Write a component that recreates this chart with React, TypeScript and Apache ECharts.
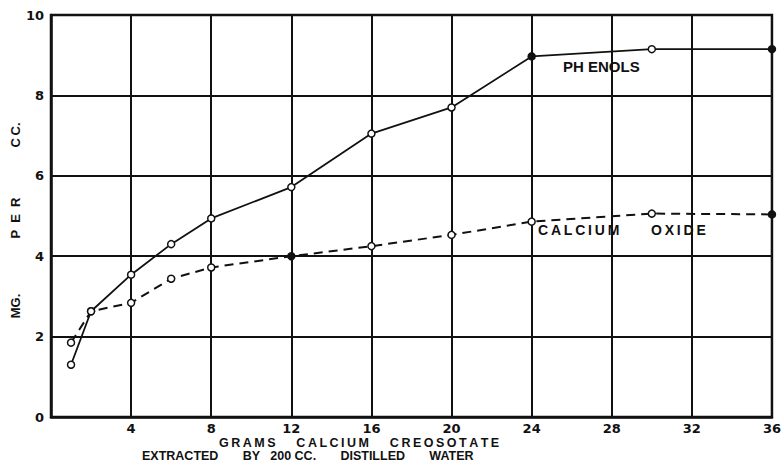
import React, { useEffect, useRef } from "react";
import * as echarts from "echarts";

const phenolsX = [1, 2, 4, 6, 8, 12, 16, 20, 24, 30, 36];
const phenolsY = [1.3, 2.63, 3.54, 4.3, 4.94, 5.72, 7.05, 7.7, 8.97, 9.15, 9.15];
const phenolsFilled = [24, 36];

const calciumX = [1, 2, 4, 6, 8, 12, 16, 20, 24, 30, 36];
const calciumY = [1.85, 2.63, 2.84, 3.44, 3.72, 4.0, 4.25, 4.53, 4.86, 5.06, 5.04];
const calciumFilled = [12, 36];

const xTicks = [4, 8, 12, 16, 20, 24, 28, 32, 36];
const yTicks = [0, 2, 4, 6, 8, 10];

const TICKFONT = "'DejaVu Sans', 'Liberation Sans', sans-serif";
const FONT = "'Liberation Sans', 'DejaVu Sans', sans-serif";
const T = "\u2009";
const spaced = (s: string) => s.split("").join(T);

function buildData(xs: number[], ys: number[], filled: number[]) {
  return xs.map((x, i) => ({
    value: [x, ys[i]],
    itemStyle: filled.includes(x)
      ? { color: "#111", borderColor: "#111", borderWidth: 1.5 }
      : { color: "#fff", borderColor: "#111", borderWidth: 1.5 },
  }));
}

export default function App() {
  const ref = useRef<HTMLDivElement>(null);
  useEffect(() => {
    if (!ref.current) return;
    const chart = echarts.init(ref.current, null, { renderer: "svg" });
    const txt = (extra: any) => ({ type: "text", silent: true, ...extra });
    chart.setOption({
      animation: false,
      backgroundColor: "#fff",
      grid: { left: 51, right: 10, top: 15, bottom: 52, show: true, borderColor: "#111", borderWidth: 2.5 },
      xAxis: {
        type: "value",
        min: 0,
        max: 36,
        interval: 4,
        axisLine: { show: true, lineStyle: { color: "#111", width: 2.5 } },
        axisTick: { show: false },
        splitLine: { show: true, lineStyle: { color: "#111", width: 2 } },
        axisLabel: {
          margin: 5,
          color: "#111",
          fontFamily: TICKFONT,
          fontWeight: "bold",
          fontSize: 13,
          lineHeight: 13,
          formatter: (v: number) => (xTicks.includes(v) ? String(v) : ""),
        },
      },
      yAxis: {
        type: "value",
        min: 0,
        max: 10,
        interval: 2,
        axisLine: { show: true, lineStyle: { color: "#111", width: 2.5 } },
        axisTick: { show: false },
        splitLine: { show: true, lineStyle: { color: "#111", width: 2 } },
        axisLabel: {
          margin: 7,
          color: "#111",
          fontFamily: TICKFONT,
          fontWeight: "bold",
          fontSize: 13,
          formatter: (v: number) => (yTicks.includes(v) ? String(v) : ""),
        },
      },
      series: [
        {
          name: "PHENOLS",
          type: "line",
          data: buildData(phenolsX, phenolsY, phenolsFilled),
          symbol: "circle",
          symbolSize: 7,
          lineStyle: { color: "#111", width: 1.8, type: "solid" },
          z: 3,
        },
        {
          name: "CALCIUM OXIDE",
          type: "line",
          data: buildData(calciumX, calciumY, calciumFilled),
          symbol: "circle",
          symbolSize: 7,
          lineStyle: { color: "#111", width: 2, type: [9, 6] },
          z: 3,
        },
      ],
      graphic: [
        txt({
          x: 563,
          y: 66,
          style: { text: "PH ENOLS", fill: "#111", font: `bold 15px ${FONT}`, verticalAlign: "middle" },
        }),
        txt({
          x: 538,
          y: 230,
          style: { text: spaced("CALCIUM"), fill: "#111", font: `bold 14px ${FONT}`, verticalAlign: "middle" },
        }),
        txt({
          x: 651,
          y: 230,
          style: { text: spaced("OXIDE"), fill: "#111", font: `bold 14px ${FONT}`, verticalAlign: "middle" },
        }),
        txt({
          x: 15,
          y: 306,
          rotation: Math.PI / 2,
          style: { text: "MG.", fill: "#111", font: `bold 13px ${FONT}`, align: "center", verticalAlign: "middle" },
        }),
        txt({
          x: 15,
          y: 218,
          rotation: Math.PI / 2,
          style: { text: "P  E  R", fill: "#111", font: `bold 13px ${FONT}`, align: "center", verticalAlign: "middle" },
        }),
        txt({
          x: 15,
          y: 135,
          rotation: Math.PI / 2,
          style: { text: "C" + T + "C.", fill: "#111", font: `bold 13px ${FONT}`, align: "center", verticalAlign: "middle" },
        }),
        txt({
          x: 219,
          y: 443,
          style: {
            text: spaced("GRAMS") + "      " + spaced("CALCIUM") + "      " + spaced("CREOSOTATE"),
            fill: "#111",
            font: `bold 12.5px ${FONT}`,
            lineHeight: 12,
            verticalAlign: "middle",
          },
        }),
        txt({
          x: 142,
          y: 456,
          style: {
            text: "EXTRACTED       BY   200 CC.       DISTILLED       WATER",
            fill: "#111",
            font: `bold 12.5px ${FONT}`,
            lineHeight: 12,
            verticalAlign: "middle",
          },
        }),
      ],
    });
    return () => chart.dispose();
  }, []);
  return (
    <div
      ref={ref}
      style={{ position: "fixed", left: 0, top: 0, width: 784, height: 469 }}
    />
  );
}
